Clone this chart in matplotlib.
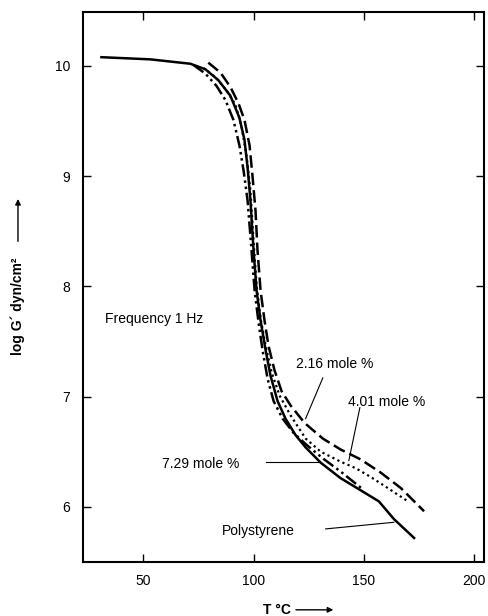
import matplotlib.pyplot as plt
import numpy as np

plt.rcParams['font.family'] = ['Liberation Sans', 'DejaVu Sans']

# polystyrene (solid)
ps_t = [30.5, 53.2, 71.4, 78.2, 84.1, 89.5, 93.6, 95.9, 97.3, 98.6, 100.0, 101.4, 103.2,
        105.5, 107.7, 110.9, 114.5, 119.1, 123.6, 130.5, 139.5, 148.6, 156.8, 163.6, 173.2]
ps_g = [10.08, 10.06, 10.02, 9.97, 9.87, 9.73, 9.53, 9.33, 9.08, 8.78, 8.33, 7.96, 7.69,
        7.42, 7.19, 6.96, 6.80, 6.65, 6.54, 6.40, 6.26, 6.15, 6.05, 5.89, 5.71]

# 2.16 mole % (dashed)
c216_t = [79.5, 85.0, 89.5, 93.2, 95.9, 98.2, 99.5, 100.9, 101.8, 103.2, 105.0, 106.8,
          109.5, 112.7, 116.8, 123.2, 131.4, 139.5, 148.6, 157.7, 166.8, 177.3]
c216_g = [10.03, 9.94, 9.81, 9.66, 9.51, 9.28, 9.01, 8.69, 8.33, 7.96, 7.69, 7.46,
          7.24, 7.05, 6.92, 6.76, 6.62, 6.52, 6.43, 6.31, 6.17, 5.96]

# 4.01 mole % (dotted)
c401_t = [77.3, 82.7, 87.7, 91.8, 94.5, 96.8, 98.6, 100.0, 101.4, 103.2, 105.5, 108.2,
          111.8, 116.8, 123.6, 130.5, 139.5, 146.4, 153.2, 160.9, 170.0]
c401_g = [9.98, 9.90, 9.78, 9.65, 9.46, 9.19, 8.87, 8.42, 8.01, 7.71, 7.46, 7.22,
          7.01, 6.83, 6.62, 6.50, 6.41, 6.35, 6.27, 6.17, 6.05]

# 7.29 mole % (dash-dot)
c729_t = [72.7, 78.2, 83.2, 87.3, 90.9, 93.6, 95.5, 97.3, 99.1, 100.5, 102.3, 104.1,
          106.4, 109.1, 113.2, 118.2, 123.6, 131.4, 139.5, 149.5]
c729_g = [10.01, 9.93, 9.82, 9.69, 9.51, 9.28, 9.05, 8.78, 8.33, 7.96, 7.67, 7.42,
          7.16, 6.96, 6.80, 6.67, 6.57, 6.44, 6.32, 6.16]

x_ticks = [50, 100, 150, 200]
y_ticks = [6, 7, 8, 9, 10]

fig = plt.figure(figsize=(4.88, 6.16), dpi=100)
ax = fig.add_axes([0.170, 0.0877, 0.822, 0.8929])

ax.plot(ps_t, ps_g, color='black', lw=1.8, solid_capstyle='butt')
ax.plot(c216_t, c216_g, color='black', lw=1.8, dashes=(5, 2))
ax.plot(c401_t, c401_g, color='black', lw=1.6, dashes=(1, 1.5))
ax.plot(c729_t, c729_g, color='black', lw=1.8, dashes=(5, 1.5, 1, 1.5, 1, 1.5))

ax.set_xlim(22.7, 204.5)
ax.set_ylim(5.5, 10.49)
ax.set_xticks(x_ticks)
ax.set_yticks(y_ticks)
ax.tick_params(direction='in', length=6, width=1, top=True, right=True,
               labelsize=10, pad=9)
for s in ax.spines.values():
    s.set_linewidth(1.5)

# labels on curves
ax.text(32.7, 7.70, 'Frequency 1 Hz', fontsize=10, va='center')
ax.text(119.1, 7.30, '2.16 mole %', fontsize=10, va='center')
ax.plot([131.4, 123.6], [7.17, 6.80], color='black', lw=0.8)
ax.text(142.7, 6.95, '4.01 mole %', fontsize=10, va='center')
ax.plot([148.2, 143.2], [6.90, 6.42], color='black', lw=0.8)
ax.text(58.6, 6.39, '7.29 mole %', fontsize=10, va='center')
ax.plot([105.5, 129.5], [6.41, 6.41], color='black', lw=0.8)
ax.text(85.5, 5.78, 'Polystyrene', fontsize=10, va='center')
ax.plot([132.7, 163.6], [5.80, 5.86], color='black', lw=0.8)

# axis titles with arrows
ax.text(-0.162, 0.465, 'log G\u00b4 dyn/cm\u00b2', transform=ax.transAxes, rotation=90,
        fontsize=10, fontweight='bold', ha='center', va='center')
ax.annotate('', xy=(-0.162, 0.665), xytext=(-0.162, 0.578), xycoords='axes fraction',
            arrowprops=dict(arrowstyle='-|>', color='black', lw=1, mutation_scale=8))
ax.text(0.518, -0.087, 'T \u00b0C', transform=ax.transAxes, fontsize=10,
        fontweight='bold', ha='right', va='center')
ax.annotate('', xy=(0.631, -0.087), xytext=(0.524, -0.087), xycoords='axes fraction',
            arrowprops=dict(arrowstyle='-|>', color='black', lw=1, mutation_scale=8))

fig.savefig('out.png', dpi=100)
